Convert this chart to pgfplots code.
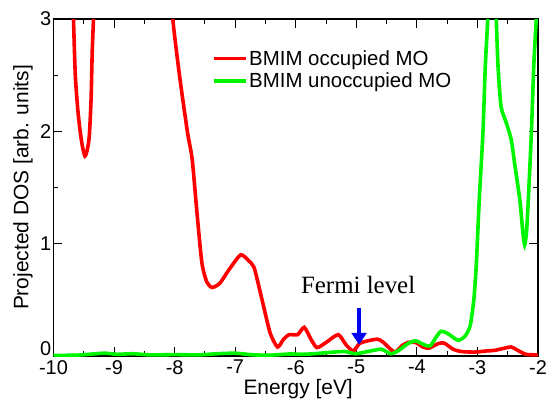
\documentclass[border=0pt]{standalone}
\usepackage{fontspec}
\setmainfont{Liberation Sans}
\newfontfamily\fermifont{Liberation Serif}
\usepackage{pgfplots}
\pgfplotsset{compat=1.18}
\usetikzlibrary{arrows.meta}
\definecolor{occred}{RGB}{255,0,0}
\definecolor{unoccgreen}{RGB}{0,245,0}
\definecolor{fermiblue}{RGB}{0,0,245}

\begin{document}
\begin{tikzpicture}
\useasboundingbox (-53.5bp,-45bp) rectangle (498.5bp,356bp);
\begin{axis}[
    at={(0,0)}, anchor=south west,
    scale only axis,
    width=484.5bp, height=337bp,
    xmin=-10, xmax=-2,
    ymin=0, ymax=3,
    xtick={-10,-9,...,-2},
    ytick={1,2,3},
    extra y ticks={0},
    extra y tick style={yticklabel style={yshift=7bp}},
    minor x tick num=1,
    minor y tick num=1,
    tick align=inside,
    tick pos=both,
    major tick length=9bp,
    minor tick length=5bp,
    every tick/.style={black, line width=1bp},
    axis line style={line width=1.3bp},
    /pgf/number format/assume math mode=true,
    tick label style={font=\fontsize{20}{23}\selectfont},
    xticklabel style={inner sep=1bp, yshift=-3bp},
    yticklabel style={inner sep=2bp},
    label style={font=\fontsize{21}{24}\selectfont},
    xlabel={Energy [eV]},
    ylabel={Projected DOS [arb. units]},
    xlabel style={at={(axis description cs:0.505,-0.097)}, anchor=center},
    ylabel style={at={(axis description cs:-0.063,0.5)}, anchor=center},
    legend style={at={(axis description cs:0.327,0.912)}, anchor=north west,
        draw=none, fill=none, inner sep=0pt,
        font=\fontsize{20.5}{24}\selectfont,
        nodes={inner sep=1.5bp}, row sep=3bp},
    legend cell align=left,
    legend image code/.code={\draw[#1] (0bp,0bp) -- (32bp,0bp);},
]
% occupied MO, first peak (clipped at the top)
\addplot[occred, line width=3.6bp, smooth, tension=0.4, forget plot] coordinates {
    (-9.69,3.4) (-9.67,3.0) (-9.64,2.5) (-9.60,2.2) (-9.56,2.0) (-9.52,1.86)
    (-9.48,1.78) (-9.445,1.83) (-9.41,1.95) (-9.38,2.28) (-9.36,2.72)
    (-9.34,3.0) (-9.32,3.4)
};
% occupied MO
\addplot[occred, line width=3.6bp, smooth, tension=0.4] coordinates {
    (-8.08,3.5) (-8.03,3.0) (-7.92,2.5) (-7.79,2.0) (-7.71,1.75) (-7.63,1.27)
    (-7.55,0.83) (-7.47,0.66) (-7.38,0.61) (-7.25,0.65) (-7.10,0.77)
    (-6.91,0.90) (-6.78,0.85) (-6.69,0.79) (-6.60,0.60) (-6.53,0.44)
    (-6.42,0.20) (-6.30,0.08) (-6.20,0.15) (-6.11,0.19) (-5.97,0.19)
    (-5.86,0.255) (-5.75,0.15) (-5.65,0.075) (-5.50,0.12) (-5.30,0.19)
    (-5.17,0.10) (-5.05,0.045) (-4.95,0.11) (-4.85,0.13) (-4.65,0.15)
    (-4.55,0.12) (-4.37,0.035) (-4.25,0.09) (-4.15,0.12) (-4.02,0.12)
    (-3.90,0.08) (-3.80,0.07) (-3.65,0.11) (-3.55,0.115) (-3.40,0.06)
    (-3.27,0.04) (-3.05,0.035) (-2.85,0.045) (-2.72,0.05) (-2.55,0.07)
    (-2.44,0.08) (-2.30,0.04) (-2.20,0.015) (-2.06,0.01) (-2.00,0.01)
};
\addlegendentry{BMIM occupied MO}
% unoccupied MO
\addplot[unoccgreen, line width=3.6bp, smooth, tension=0.4] coordinates {
    (-10,0.005) (-9.6,0.008) (-9.35,0.018) (-9.15,0.025) (-8.95,0.015)
    (-8.7,0.02) (-8.4,0.01) (-8.0,0.012) (-7.6,0.01) (-7.3,0.02) (-7.0,0.025)
    (-6.7,0.01) (-6.4,0.008) (-6.1,0.018) (-5.9,0.015) (-5.7,0.02)
    (-5.48,0.03) (-5.2,0.04) (-5.01,0.02) (-4.81,0.04) (-4.59,0.06)
    (-4.43,0.02) (-4.30,0.05) (-4.15,0.11) (-4.02,0.135) (-3.88,0.10)
    (-3.78,0.09) (-3.68,0.17) (-3.60,0.22) (-3.49,0.20) (-3.32,0.14)
    (-3.20,0.18) (-3.12,0.27) (-3.06,0.50) (-3.02,0.80) (-2.97,1.39)
    (-2.91,1.98) (-2.87,2.58) (-2.83,2.99) (-2.80,3.3) (-2.72,3.3)
    (-2.69,3.0) (-2.66,2.58) (-2.61,2.22) (-2.52,2.07) (-2.44,1.92)
    (-2.38,1.69) (-2.30,1.39) (-2.25,1.10) (-2.22,0.99) (-2.19,1.10)
    (-2.16,1.39) (-2.11,1.98) (-2.07,2.58) (-2.03,2.99) (-2.00,3.3)
};
\addlegendentry{BMIM unoccupied MO}
% Fermi level marker
\draw[fermiblue, line width=4bp, -{Triangle[length=12bp,width=15bp]}]
    (axis cs:-4.955,0.43) -- (axis cs:-4.955,0.10);
\node[anchor=base, inner sep=0pt, font=\fermifont\fontsize{25}{28}\selectfont]
    at (axis cs:-4.97,0.558) {Fermi level};
\end{axis}
\end{tikzpicture}
\end{document}
